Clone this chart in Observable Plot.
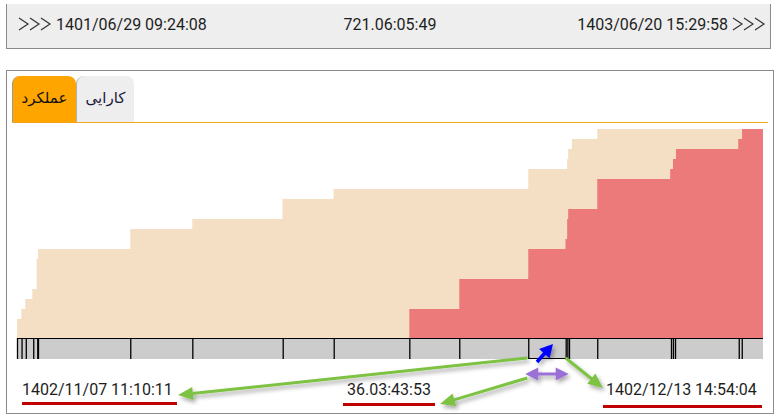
<!DOCTYPE html>
<html lang="fa"><head><meta charset="utf-8">
<script src="https://cdn.jsdelivr.net/npm/d3@7"></script>
<script src="https://cdn.jsdelivr.net/npm/@observablehq/plot@0.6"></script>
<style>
html,body{margin:0;padding:0;background:#fff}
body{width:778px;height:418px;position:relative;overflow:hidden;font-family:Roboto,"Noto Sans",sans-serif;color:#1e1e1e}
.a{position:absolute;white-space:nowrap}
.t16{font-size:16px;line-height:20px}
#topbar{left:6px;top:4px;width:763px;height:44px;background:#eeeeee;border-left:1px solid #8a8a8a;border-right:1px solid #8a8a8a;border-bottom:1px solid #8a8a8a}
#panel{left:6px;top:70px;width:766px;height:342px;border:1px solid #8a8a8a;background:#fff}
.tab{top:76px;height:47px;border-radius:8px 8px 0 0;box-sizing:border-box;font-family:"DejaVu Sans",sans-serif;font-size:15px;line-height:44px;text-align:center;direction:rtl}
#tab1{left:12px;width:64px;background:#ffa500;border-left:1px solid #9a9a9a;color:#111}
#tab2{left:76px;width:58px;background:#eeeeee;border-left:1px solid #b0b0b0;color:#1a1a3a}
#tabline{left:12px;top:122px;width:756px;height:1px;background:#f2a623}
.ul{height:3px;background:#c00000}
svg.plot{position:absolute;left:0;overflow:visible}
</style></head><body>
<div id="topbar" class="a"></div>
<svg class="a" style="left:0;top:0" width="778" height="50" id="chev"></svg>
<div class="a t16" id="tStart" style="left:56px;top:15px"></div>
<div class="a t16" id="tSpan" style="left:290px;width:200px;text-align:center;top:15px"></div>
<div class="a t16" id="tEnd" style="right:50px;top:15px"></div>
<div id="panel" class="a"></div>
<div id="tab1" class="a tab"></div>
<div id="tab2" class="a tab"></div>
<div id="tabline" class="a"></div>
<div id="chartA" class="a" style="left:0;top:124px"></div>
<div id="chartB" class="a" style="left:0;top:337px"></div>
<div class="a t16" id="lSel1" style="left:22px;top:380px"></div>
<div class="a t16" id="lSpan" style="left:347px;top:380px"></div>
<div class="a t16" id="lSel2" style="left:606px;top:380px"></div>
<div class="a ul" style="left:22px;top:402px;width:155px"></div>
<div class="a ul" style="left:343px;top:403px;width:92px"></div>
<div class="a ul" style="left:603px;top:405px;width:159px"></div>
<script>
// ---- data ----
const tabLabels = ["عملکرد", "کارایی"];
const rangeStartLabel = "1401/06/29 09:24:08";
const rangeEndLabel = "1403/06/20 15:29:58";
const rangeSpanLabel = "721.06:05:49";
const rangeSpanDays = 721.25;

// cumulative total (light) : step days since range start, level after step
const totalDays   = [0, 4.2, 8.0, 14.8, 19.0, 20.3, 109.5, 169.5, 256.6, 306.0, 494.3, 531.9, 532.9, 536.6, 561.0];
const totalLevels = [2, 3, 4, 5, 8, 9, 11, 12, 14, 15, 17, 18, 19, 20, 21];

// cumulative second series (red)
const redDays   = [379.3, 427.6, 494.3, 530.3, 531.9, 532.9, 561.0, 631.5, 634.2, 637.1, 697.3, 701.0];
const redLevels = [3, 6, 9, 10, 12, 13, 16, 17, 18, 19, 20, 21];

// event ticks in the timeline strip (days)
const tickDays = [0, 4.4, 8.5, 15.7, 19.6, 20.3, 109.5, 169.5, 256.9, 306.2, 379.3, 427.6, 494.3, 530.5, 532.1, 533.7, 561.0, 632.3, 634.2, 636.2, 697.8, 700.7];

// selected interval
const selStartDay = 494.3, selEndDay = 530.5;
const selStartLabel = "1402/11/07 11:10:11";
const selEndLabel = "1402/12/13 14:54:04";
const selSpanLabel = "36.03:43:53";

// ---- texts ----
document.getElementById("tab1").textContent = tabLabels[0];
document.getElementById("tab2").textContent = tabLabels[1];
document.getElementById("tStart").textContent = rangeStartLabel;
document.getElementById("tEnd").textContent = rangeEndLabel;
document.getElementById("tSpan").textContent = rangeSpanLabel;
document.getElementById("lSel1").textContent = selStartLabel;
document.getElementById("lSel2").textContent = selEndLabel;
document.getElementById("lSpan").textContent = selSpanLabel;

// chevrons
const chev = d3.select("#chev");
[19, 30, 41, 733, 744, 755].forEach(x => {
  chev.append("polyline").attr("points", `${x},18 ${x+9},24 ${x},30`)
    .attr("fill", "none").attr("stroke", "#333").attr("stroke-width", 1.2);
});

// ---- tables ----
const total = totalDays.map((d, i) => ({day: d, level: totalLevels[i]}));
total.push({day: rangeSpanDays, level: totalLevels[totalLevels.length - 1]});
const red = redDays.map((d, i) => ({day: d, level: redLevels[i]}));
red.push({day: rangeSpanDays, level: redLevels[redLevels.length - 1]});

const xOpts = {domain: [0, rangeSpanDays], axis: null};
const chartA = Plot.plot({
  width: 778, height: 215, marginLeft: 17, marginRight: 15, marginTop: 0, marginBottom: 0,
  style: {background: "transparent"},
  x: xOpts,
  y: {domain: [0, 21.5], axis: null},
  marks: [
    Plot.areaY(total, {x: "day", y: "level", curve: "step-after", fill: "#f5dfc4"}),
    Plot.areaY(red, {x: "day", y: "level", curve: "step-after", fill: "#ed7a7a"})
  ]
});
document.getElementById("chartA").append(chartA);

const chartB = Plot.plot({
  width: 778, height: 23, marginLeft: 17, marginRight: 15, marginTop: 1, marginBottom: 1,
  style: {background: "transparent"},
  x: xOpts,
  y: {domain: [0, 1], axis: null},
  marks: [
    Plot.rect([{a: 0, b: rangeSpanDays}], {x1: "a", x2: "b", y1: 0, y2: 1, fill: "#cccccc"}),
    Plot.ruleY([1], {x1: 0, x2: rangeSpanDays, stroke: "#000"}),
    Plot.ruleX(tickDays, {y1: 0, y2: 1, stroke: "#000", strokeWidth: 1.3}),
    Plot.ruleY([1 / 21], {x1: selStartDay, x2: selEndDay, stroke: "#000"})
  ]
});
document.getElementById("chartB").append(chartB);

// ---- annotation arrows ----
const sx = chartA.scale("x");
const xs = sx.apply(selStartDay), xe = sx.apply(selEndDay);
const ov = d3.select("body").append("svg").attr("class", "a")
  .style("left", 0).style("top", 0).attr("width", 778).attr("height", 418);
const f = ov.append("defs").append("filter").attr("id", "sh")
  .attr("x", "-20%").attr("y", "-50%").attr("width", "140%").attr("height", "200%");
f.append("feDropShadow").attr("dx", 2).attr("dy", 3).attr("stdDeviation", 2)
  .attr("flood-color", "#000").attr("flood-opacity", 0.35);
const g = ov.append("g").attr("filter", "url(#sh)");

function head(x, y, ux, uy, len, wid, color) {
  const bx = x - ux * len, by = y - uy * len;
  const px = -uy, py = ux;
  g.append("polygon").attr("points",
    `${x},${y} ${bx + px * wid / 2},${by + py * wid / 2} ${bx - px * wid / 2},${by - py * wid / 2}`)
    .attr("fill", color);
}
function arrow(x1, y1, x2, y2, color, w, len, wid, both) {
  const dx = x2 - x1, dy = y2 - y1, L = Math.hypot(dx, dy), ux = dx / L, uy = dy / L;
  const s = both ? len * 0.8 : 0;
  g.append("line")
    .attr("x1", x1 + ux * s).attr("y1", y1 + uy * s)
    .attr("x2", x2 - ux * len * 0.8).attr("y2", y2 - uy * len * 0.8)
    .attr("stroke", color).attr("stroke-width", w);
  head(x2, y2, ux, uy, len, wid, color);
  if (both) head(x1, y1, -ux, -uy, len, wid, color);
}
const green = "#7dc242";
arrow(xs - 1, 358, 178, 395, green, 3, 15, 13, false);
arrow(xs - 1, 378, 440, 404, green, 3, 15, 13, false);
arrow(xe, 358, 603, 388, green, 3, 15, 13, false);
arrow(xs - 3, 374, xe + 3, 374, "#9b6fd6", 3, 13, 13, true);
arrow((xs + xe) / 2 - 10, 362, (xs + xe) / 2 + 6, 344, "#0000ff", 3.5, 13, 14, false);
</script>
</body></html>
